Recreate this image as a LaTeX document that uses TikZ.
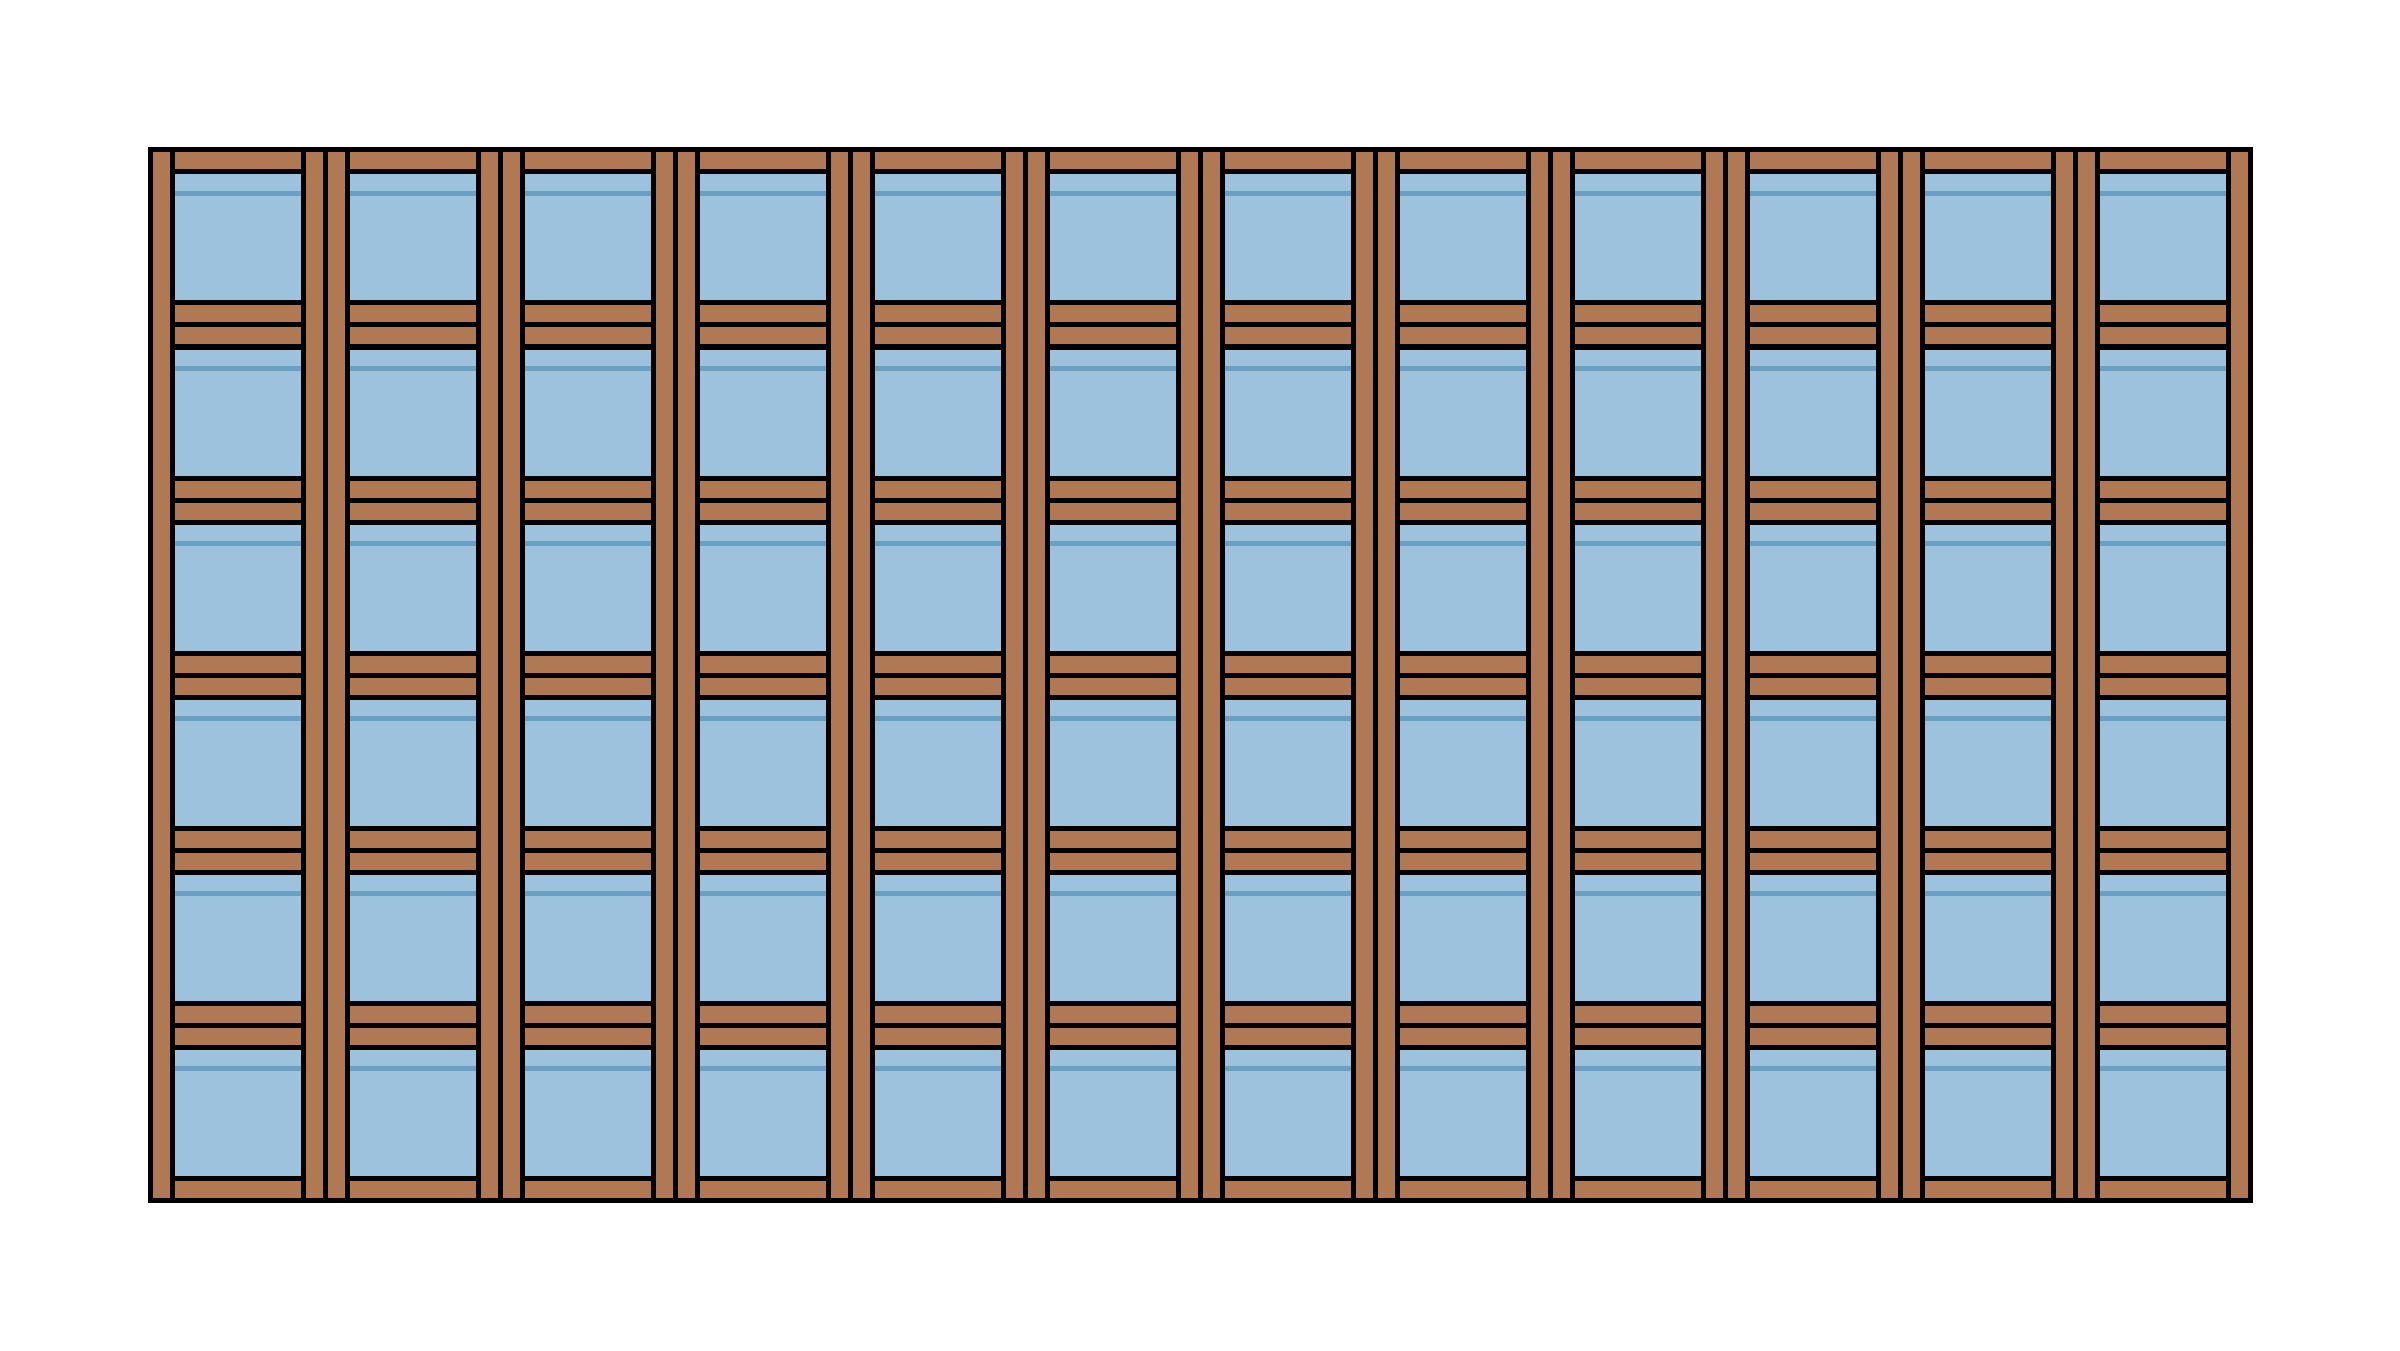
\documentclass[tikz,border=0pt]{standalone}
\usepackage{tikz}
\definecolor{wood}{RGB}{177,120,84}
\definecolor{pane}{RGB}{156,194,221}
\definecolor{paneline}{RGB}{106,160,194}
\tikzset{
    woodbar/.style={fill=wood,draw=black,line width=0.05cm},
    glasspane/.style={fill=pane,draw=black!70,line width=0.3pt},
    glare/.style={draw=paneline,line width=0.055cm}
}

\begin{document}
\begin{tikzpicture}
    \useasboundingbox (0,0) rectangle (24,13.5);
    \foreach \i in {0,...,11} {
        \pgfmathsetmacro{\xa}{1.5+1.75*\i}
        \pgfmathsetmacro{\xb}{\xa+1.75}
        \foreach \j in {0,...,5} {
            \pgfmathsetmacro{\ya}{1.5+1.75*\j}
            \pgfmathsetmacro{\yb}{\ya+1.75}
            \draw[glasspane] (\xa+0.22,\ya+0.22) rectangle (\xb-0.22,\yb-0.22);
            \draw[glare] (\xa+0.22,\yb-0.436)--(\xb-0.22,\yb-0.436);
            \draw[woodbar] (\xa,\yb-0.22) rectangle (\xb,\yb);
            \draw[woodbar] (\xa,\ya) rectangle (\xb,\ya+0.22);
        }
        \draw[woodbar] (\xa,1.5) rectangle (\xa+0.22,12);
        \draw[woodbar] (\xb-0.22,1.5) rectangle (\xb,12);
    }
\end{tikzpicture}
\end{document}
